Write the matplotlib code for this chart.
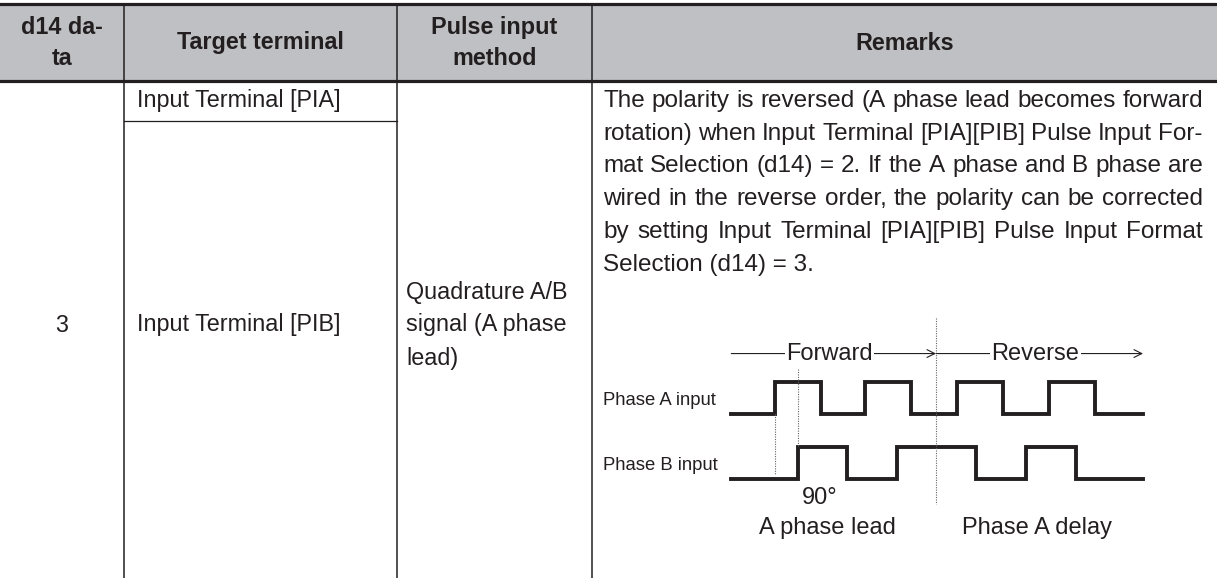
import numpy as np
import matplotlib.pyplot as plt
from matplotlib.patches import Rectangle

plt.rcParams.update({'font.family': ['Liberation Sans', 'DejaVu Sans'], 'font.size': 16.8})

W, H = 1217, 578
ink = '#231f20'
head_bg = '#bfc0c3'

# table contents
head_labels = ['d14 da-\nta', 'Target terminal', 'Pulse input\nmethod', 'Remarks']
d14_value = '3'
terminals = ['Input Terminal [PIA]', 'Input Terminal [PIB]']
method = ['Quadrature A/B', 'signal (A phase', 'lead)']
remarks = ['The polarity is reversed (A phase lead becomes forward',
           'rotation) when Input Terminal [PIA][PIB] Pulse Input For-',
           'mat Selection (d14) = 2. If the A phase and B phase are',
           'wired in the reverse order, the polarity can be corrected',
           'by setting Input Terminal [PIA][PIB] Pulse Input Format',
           'Selection (d14) = 3.']

# timing diagram, time in quarter periods
t_start, t_end = 0.1, 18.0
a_edges = [2.0, 4.0, 5.9, 7.9, 9.9, 11.9, 13.9, 15.9]
b_edges = [3.0, 5.15, 7.3, 10.75, 12.9, 15.1]
t_reverse = 9.0
direction_labels = ['Forward', 'Reverse']
phase_labels = ['Phase A input', 'Phase B input']


def wave(edges, low, high):
    xs = [t_start]
    ys = [low]
    lvl = low
    for e in edges:
        new = high if lvl == low else low
        xs += [e, e]
        ys += [lvl, new]
        lvl = new
    xs.append(t_end)
    ys.append(lvl)
    return xs, ys


fig = plt.figure(figsize=(W / 100, H / 100), dpi=100)
ax = fig.add_axes([0, 0, 1, 1])
ax.set_xlim(0, W)
ax.set_ylim(H, 0)
ax.axis('off')
renderer = fig.canvas.get_renderer()

# header band and rules
cols = [0, 124, 397, 592, W]
ax.add_patch(Rectangle((0, 4), W, 77, color=head_bg, lw=0))
ax.plot([0, W], [4, 4], color=ink, lw=2.3)
ax.plot([0, W], [81, 81], color=ink, lw=2.3)
for c in cols[1:-1]:
    ax.plot([c, c], [4, H], color=ink, lw=1.1)
ax.plot([cols[1], cols[2]], [121, 121], color=ink, lw=0.9)

for i, lab in enumerate(head_labels):
    ax.text((cols[i] + cols[i + 1]) / 2, 43, lab, ha='center', va='center',
            fontweight='bold', color=ink, linespacing=1.45, fontsize=16.8)

ax.text(62, 325, d14_value, ha='center', va='center', color=ink)
ax.text(137, 101, terminals[0], ha='left', va='center', color=ink)
ax.text(137, 325, terminals[1], ha='left', va='center', color=ink)
for i, s in enumerate(method):
    ax.text(406, 292 + 33 * i, s, ha='left', va='center', color=ink)

# justified remarks paragraph
left, right = 603, 1203
fs_r = 17.5
for i, s in enumerate(remarks):
    y = 101 + 32.7 * i
    if i == len(remarks) - 1:
        ax.text(left, y, s, ha='left', va='center', color=ink, fontsize=fs_r)
        continue
    words = s.split(' ')
    items = [ax.text(0, y, w, ha='left', va='center', color=ink, fontsize=fs_r) for w in words]
    widths = [t.get_window_extent(renderer).width for t in items]
    gap = (right - left - sum(widths)) / (len(words) - 1)
    x = left
    for t, w in zip(items, widths):
        t.set_x(x)
        x += w + gap

# timing diagram axes
x0, q = 729, 23.0
yb, u = 479, 32.5
px_l, px_r, px_t, px_b = 595, 1217, 300, 560
axd = fig.add_axes([px_l / W, (H - px_b) / H, (px_r - px_l) / W, (px_b - px_t) / H])
axd.set_xlim((px_l - x0) / q, (px_r - x0) / q)
axd.set_ylim((yb - px_b) / u, (yb - px_t) / u)
axd.axis('off')
axd.patch.set_alpha(0)

xa, ya = wave(a_edges, 2.0, 3.0)
xb, yb_ = wave(b_edges, 0.0, 1.0)
axd.plot(xa, ya, color=ink, lw=2.8, solid_joinstyle='miter')
axd.plot(xb, yb_, color=ink, lw=2.8, solid_joinstyle='miter')

dot = dict(color='#666666', lw=0.8, ls=(0, (1, 1.2)))
axd.plot([a_edges[0], a_edges[0]], [2.0, 0.12], **dot)
axd.plot([b_edges[0], b_edges[0]], [3.38, 1.0], **dot)
axd.plot([t_reverse, t_reverse], [4.95, -0.77], **dot)

arrow_v = 3.86
spans = [(t_start, t_reverse), (t_reverse, t_end)]
for (a, b), lab in zip(spans, direction_labels):
    axd.annotate('', xy=(b, arrow_v), xytext=(a, arrow_v),
                 arrowprops=dict(arrowstyle='->', lw=0.8, color=ink,
                                 shrinkA=0, shrinkB=0, mutation_scale=14))
    axd.text(a + (b - a) * 0.48, arrow_v, lab, ha='center', va='center', color=ink,
             fontsize=17, bbox=dict(facecolor='white', edgecolor='none', pad=1.0))

axd.text((603 - x0) / q, 2.43, phase_labels[0], ha='left', va='center', color=ink,
         fontsize=13.3, family=['Liberation Sans Narrow', 'Liberation Sans'])
axd.text((603 - x0) / q, 0.43, phase_labels[1], ha='left', va='center', color=ink,
         fontsize=13.3, family=['Liberation Sans Narrow', 'Liberation Sans'])

axd.text(3.15, -0.6, '90°', ha='left', va='center', color=ink, fontsize=17)
axd.text(4.3, -1.52, 'A phase lead', ha='center', va='center', color=ink, fontsize=17)
axd.text(13.4, -1.52, 'Phase A delay', ha='center', va='center', color=ink, fontsize=17)

fig.savefig('out.png', dpi=100)
